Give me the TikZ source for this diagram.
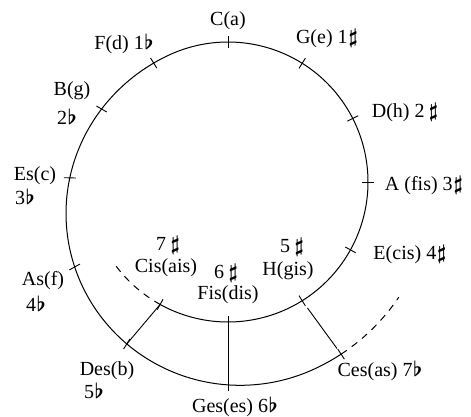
\documentclass[tikz,border=0pt]{standalone}
\usepackage{fontspec}
\setmainfont{Liberation Serif}
\usetikzlibrary{calc}
\newcommand{\fl}{\kern0.5pt{\boldmath$\flat$}}
\newcommand{\shp}{\kern1pt{\boldmath$\sharp$}}
\begin{document}
\begin{tikzpicture}[x=1pt,y=-1pt,
  declare function={sr(\t)=(\t<115)*140+(\t>=115)*(\t<=295)*(140+33*(1-cos(\t-115)))+(\t>295)*206;},
  lbl/.style={font=\fontsize{20}{22}\selectfont, inner sep=0pt},
  curve/.style={line width=1pt},
  tickmark/.style={line width=0.9pt},
  conn/.style={line width=0.9pt}]
\useasboundingbox (0,0) rectangle (471,417);
\coordinate (o) at (228,182);
\begin{scope}[shift={(228,182)}, y=1pt]
  \draw[curve] plot[domain=-119:303.3, samples=220, smooth] (\x:{sr(\x)});
  \draw[curve, dash pattern=on 7pt off 6pt] plot[domain=-143:-119, samples=20, smooth] (\x:{sr(\x)});
  \draw[curve, dash pattern=on 7pt off 6pt] plot[domain=303.3:326, samples=20, smooth] (\x:{sr(\x)});
  \coordinate (cis) at (-119:{sr(-119)});
  \coordinate (fis) at (-90:{sr(-90)});
  \coordinate (h) at (-58:{sr(-58)});
  \coordinate (e) at (-29:{sr(-29)});
  \coordinate (a) at (0:{sr(0)});
  \coordinate (d) at (27:{sr(27)});
  \coordinate (g) at (58:{sr(58)});
  \coordinate (c) at (90:{sr(90)});
  \coordinate (f) at (122:{sr(122)});
  \coordinate (b) at (150:{sr(150)});
  \coordinate (es) at (178.5:{sr(178.5)});
  \coordinate (as) at (209:{sr(209)});
  \coordinate (des) at (238:{sr(238)});
  \coordinate (ges) at (270:{sr(270)});
  \coordinate (ces) at (303.3:{sr(303.3)});
\end{scope}
\foreach \p in {cis,fis,h,e,a,d,g,c,f,b,es,as,des,ges,ces}
  \draw[tickmark] ($(\p)!6pt!(o)$) -- ($(\p)!-6pt!(o)$);
\draw[conn] (des) -- (cis);
\draw[conn] (ges) -- (fis);
\draw[conn, shorten <=9pt, shorten >=7pt] (h) -- (ces);
\node[lbl] (Lc) at (228,21) {C(a)};
\node[lbl] (Lg) at (327,38) {G(e) 1\shp};
\node[lbl] (Ld) at (405,112) {D(h) 2\,\shp};
\node[lbl] (La) at (424,185) {A (fis) 3\shp};
\node[lbl] (Le) at (410,254) {E(cis) 4\shp};
\node[lbl] (Lces) at (380,371) {Ces(as) 7\fl};
\node[lbl] (Lges) at (235,407) {Ges(es) 6\fl};
\node[lbl] (Ldes) at (107,371) {Des(b)};
\node[lbl] (Ldesk) at (94,391) {5\fl};
\node[lbl] (Las) at (43,281) {As(f)};
\node[lbl] (Lask) at (36,304) {4\fl};
\node[lbl] (Les) at (35,176) {Es(c)};
\node[lbl] (Lesk) at (25,197) {3\fl};
\node[lbl] (Lb) at (72,91) {B(g)};
\node[lbl] (Lbk) at (67,117) {2\fl};
\node[lbl] (Lf) at (124,44) {F(d) 1\fl};
\node[lbl] (Lcisk) at (168,245) {7\,\shp};
\node[lbl] (Lcis) at (166,268) {Cis(ais)};
\node[lbl] (Lfisk) at (226,273) {6\,\shp};
\node[lbl] (Lfis) at (228,295) {Fis(dis)};
\node[lbl] (Lhk) at (292,247) {5\,\shp};
\node[lbl] (Lh) at (288,271) {H(gis)};
\end{tikzpicture}
\end{document}
